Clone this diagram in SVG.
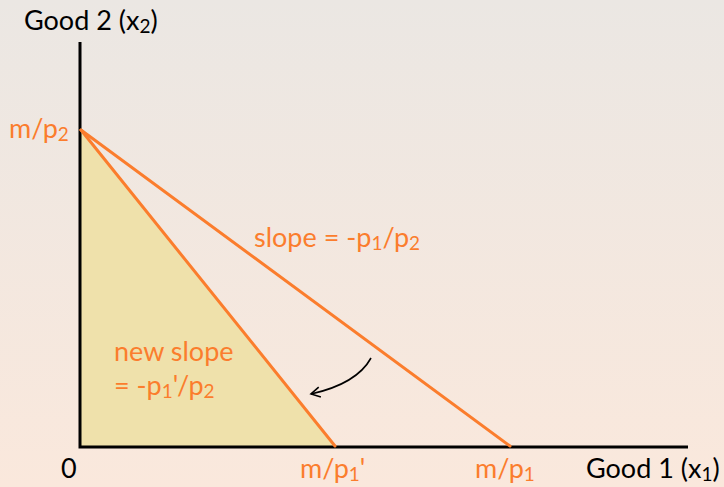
<svg xmlns="http://www.w3.org/2000/svg" width="724" height="487" viewBox="0 0 724 487">
<defs>
<linearGradient id="bg" x1="0" y1="0" x2="0" y2="1">
<stop offset="0" stop-color="#ebe7e3"/>
<stop offset="1" stop-color="#fae8dc"/>
</linearGradient>
<marker id="ah" viewBox="0 0 12 12" refX="10" refY="6" markerWidth="12" markerHeight="12" markerUnits="userSpaceOnUse" orient="auto">
<path d="M1,1 L10,6 L1,11" fill="none" stroke="#000" stroke-width="1.6"/>
</marker>
</defs>
<style>
text{font-family:Lato,"Open Sans",sans-serif;font-size:27px}
.k{fill:#000}
.o{fill:#fb7d2d}
.ol{stroke:#fb7d2d;stroke-width:3;fill:none;stroke-linecap:round}
.ax{stroke:#000;stroke-width:3;fill:none}
</style>
<rect x="0" y="0" width="724" height="487" fill="url(#bg)"/>
<g id="region">
<polygon points="80,130 80,447 335,447" fill="#efe1ab"/>
</g>
<g id="axes">
<path class="ax" d="M80,42 L80,447 L688,447"/>
</g>
<g id="connectors">
<path class="ol" d="M81,130 L510,446"/>
<path class="ol" d="M81,130 L335,446"/>
<path d="M371,358 C360,378 338,388 311,394" fill="none" stroke="#000" stroke-width="1.6" marker-end="url(#ah)"/>
</g>
<g id="labels">
<text class="k" x="24" y="30">Good 2 (x<tspan font-size="19" dy="3">2</tspan><tspan dy="-3">)</tspan></text>
<text class="o" x="9" y="138">m/p<tspan font-size="19" dy="3">2</tspan></text>
<text class="o" x="254" y="247">slope = -p<tspan font-size="19" dy="3">1</tspan><tspan dy="-3">/p</tspan><tspan font-size="19" dy="3">2</tspan></text>
<text class="o" x="114" y="361">new slope</text>
<text class="o" x="114" y="395">= -p<tspan font-size="19" dy="3">1</tspan><tspan dy="-3">'/p</tspan><tspan font-size="19" dy="3">2</tspan></text>
<text class="k" x="61" y="478">0</text>
<text class="o" x="300" y="478">m/p<tspan font-size="19" dy="3">1</tspan><tspan dy="-3">'</tspan></text>
<text class="o" x="475" y="478">m/p<tspan font-size="19" dy="3">1</tspan></text>
<text class="k" x="586" y="478">Good 1 (x<tspan font-size="19" dy="3">1</tspan><tspan dy="-3">)</tspan></text>
</g>
</svg>
